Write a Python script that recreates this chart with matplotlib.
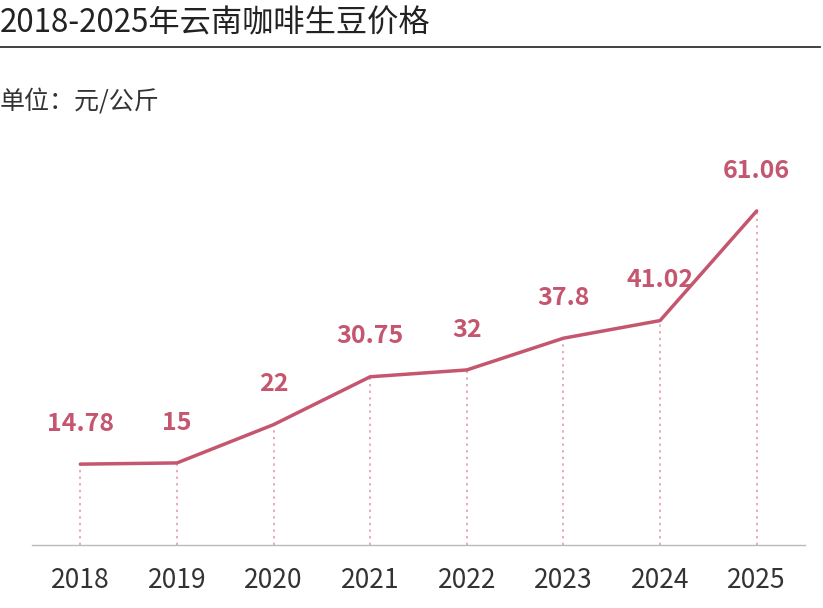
import matplotlib
matplotlib.use("Agg")
import matplotlib.pyplot as plt
from matplotlib.lines import Line2D

plt.rcParams['font.family'] = ['Noto Sans CJK SC', 'DejaVu Sans']

years = ["2018", "2019", "2020", "2021", "2022", "2023", "2024", "2025"]
prices = [14.78, 15, 22, 30.75, 32, 37.8, 41.02, 61.06]
labels = ["14.78", "15", "22", "30.75", "32", "37.8", "41.02", "61.06"]

LINE = "#c4566f"
DOT = "#e8a9b9"

fig = plt.figure(figsize=(8.23, 6.08), dpi=100)
fig.patch.set_facecolor("white")

ax = fig.add_axes([32/823, 1-545/608, (805-32)/823, (545-150)/608])
x = list(range(len(years)))
ax.plot(x, prices, color=LINE, lw=2.5, solid_capstyle='round', zorder=3)
ax.vlines(x, 0, prices, colors=DOT, linestyles=(0, (1.2, 2.2)), lw=1.4, zorder=2)
for xi, v, lab in zip(x, prices, labels):
    ax.annotate(lab, (xi, v), xytext=(0, 29), textcoords='offset points',
                ha='center', va='center', fontsize=18, fontweight='bold', color=LINE)

ax.set_xlim(-0.5, 7.5)
ax.set_ylim(0, 72.2)
ax.set_xticks(x)
ax.set_xticklabels(years, fontsize=19, color="#333333")
ax.set_yticks([])
ax.tick_params(axis='x', length=0, pad=16)
for s in ['top', 'right', 'left']:
    ax.spines[s].set_visible(False)
ax.spines['bottom'].set_color("#bbbbbb")
ax.spines['bottom'].set_linewidth(1.0)
ax.patch.set_alpha(0)

fig.text(0.0, 1-23/608, "2018-2025年云南咖啡生豆价格", fontsize=22.5, color="#222222",
         ha='left', va='center')
fig.add_artist(Line2D([0, 820/823], [1-47/608, 1-47/608], color="#333333", lw=1.3,
                      transform=fig.transFigure))
fig.text(0.0, 1-102/608, "单位：元/公斤", fontsize=18, color="#333333",
         ha='left', va='center')

fig.savefig("out.png", dpi=100)
